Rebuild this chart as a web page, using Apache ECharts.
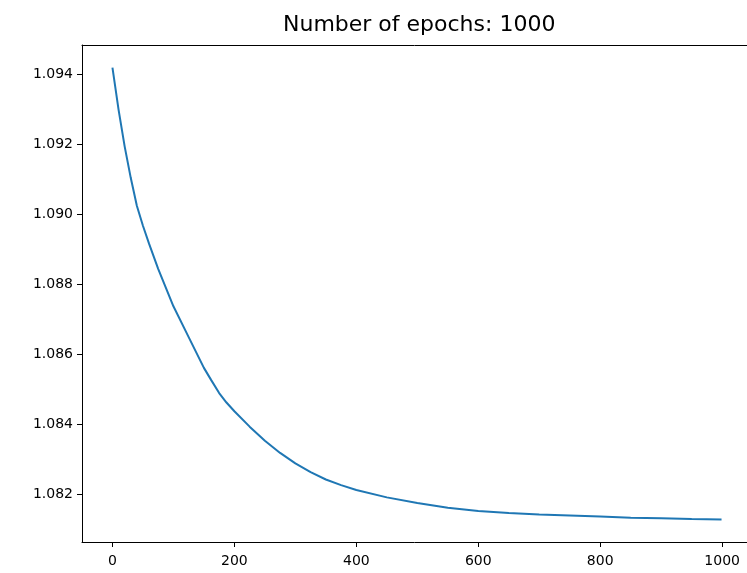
<!DOCTYPE html>
<html>
<head>
<meta charset="utf-8">
<script src="https://cdn.jsdelivr.net/npm/echarts@6/dist/echarts.min.js"></script>
<style>
  html, body { margin: 0; padding: 0; background: #fff; }
  #chart { width: 747px; height: 573px; }
</style>
</head>
<body>
<div id="chart"></div>
<script>
// Training loss recorded over the epochs
const epochs = [0, 10, 20, 30, 40, 50, 60, 75, 100, 125, 150, 162, 175, 187, 200, 225, 250, 275, 300, 325, 350, 375, 400, 450, 500, 550, 600, 650, 700, 750, 800, 850, 900, 950, 999];
const loss = [1.09420, 1.09300, 1.09195, 1.09105, 1.09025, 1.08968, 1.08917, 1.08845, 1.08738, 1.08650, 1.08562, 1.08527, 1.08490, 1.08463, 1.08438, 1.08394, 1.08354, 1.08319, 1.08289, 1.08264, 1.08243, 1.08227, 1.08213, 1.08192, 1.08176, 1.08162, 1.08153, 1.08147, 1.08143, 1.08140, 1.08137, 1.08134, 1.08132, 1.08130, 1.08129];

const xTicks = [0, 200, 400, 600, 800, 1000];
const yTicks = [1.082, 1.084, 1.086, 1.088, 1.090, 1.092, 1.094];
const titleText = 'Number of epochs: 1000';

// Plot box in pixels; the full axes box runs a few pixels past the right edge of the page
const plotLeft = 82, plotTop = 45, plotBottom = 31;
const pageWidth = 747, fullAxesRight = 752;

// 5% padding around the data range on both axes
const xSpan = epochs[epochs.length - 1] - epochs[0];
const xMin = epochs[0] - 0.05 * xSpan;
const xMaxFull = epochs[epochs.length - 1] + 0.05 * xSpan;
// only the part of the x range that fits on the page is shown
const xMax = xMin + (xMaxFull - xMin) * (pageWidth - plotLeft) / (fullAxesRight - plotLeft);
const yLo = Math.min(...loss), yHi = Math.max(...loss);
const yMin = yLo - 0.05 * (yHi - yLo);
const yMax = yHi + 0.05 * (yHi - yLo);

const font = 'DejaVu Sans';
const spine = { show: true, onZero: false, lineStyle: { color: '#000', width: 1 } };

const chart = echarts.init(document.getElementById('chart'));
chart.setOption({
  animation: false,
  backgroundColor: '#fff',
  title: {
    text: titleText,
    left: 278,
    top: 9,
    textStyle: { fontFamily: font, fontSize: 22, fontWeight: 'normal', color: '#000' }
  },
  grid: { left: plotLeft, right: 0, top: plotTop, bottom: plotBottom, show: false },
  xAxis: [{
    type: 'value',
    position: 'bottom',
    min: xMin, max: xMax,
    splitLine: { show: false },
    axisLine: spine,
    axisTick: { show: true, length: 5, customValues: xTicks, lineStyle: { color: '#000' } },
    axisLabel: {
      customValues: xTicks, margin: 12,
      fontFamily: font, fontSize: 14, color: '#000',
      formatter: v => String(Math.round(v))
    }
  }, {
    // top spine
    type: 'value',
    position: 'top',
    min: xMin, max: xMax,
    splitLine: { show: false },
    axisLine: spine,
    axisTick: { show: false },
    axisLabel: { show: false }
  }],
  yAxis: {
    type: 'value',
    min: yMin, max: yMax,
    splitLine: { show: false },
    axisLine: spine,
    axisTick: { show: true, length: 5, customValues: yTicks, lineStyle: { color: '#000' } },
    axisLabel: {
      customValues: yTicks, margin: 9,
      fontFamily: font, fontSize: 14, color: '#000',
      formatter: v => v.toFixed(3)
    }
  },
  series: [{
    type: 'line',
    xAxisIndex: 0,
    data: epochs.map((e, i) => [e, loss[i]]),
    showSymbol: false,
    smooth: false,
    lineStyle: { color: '#1f77b4', width: 2 },
    itemStyle: { color: '#1f77b4' }
  }]
});
</script>
</body>
</html>
